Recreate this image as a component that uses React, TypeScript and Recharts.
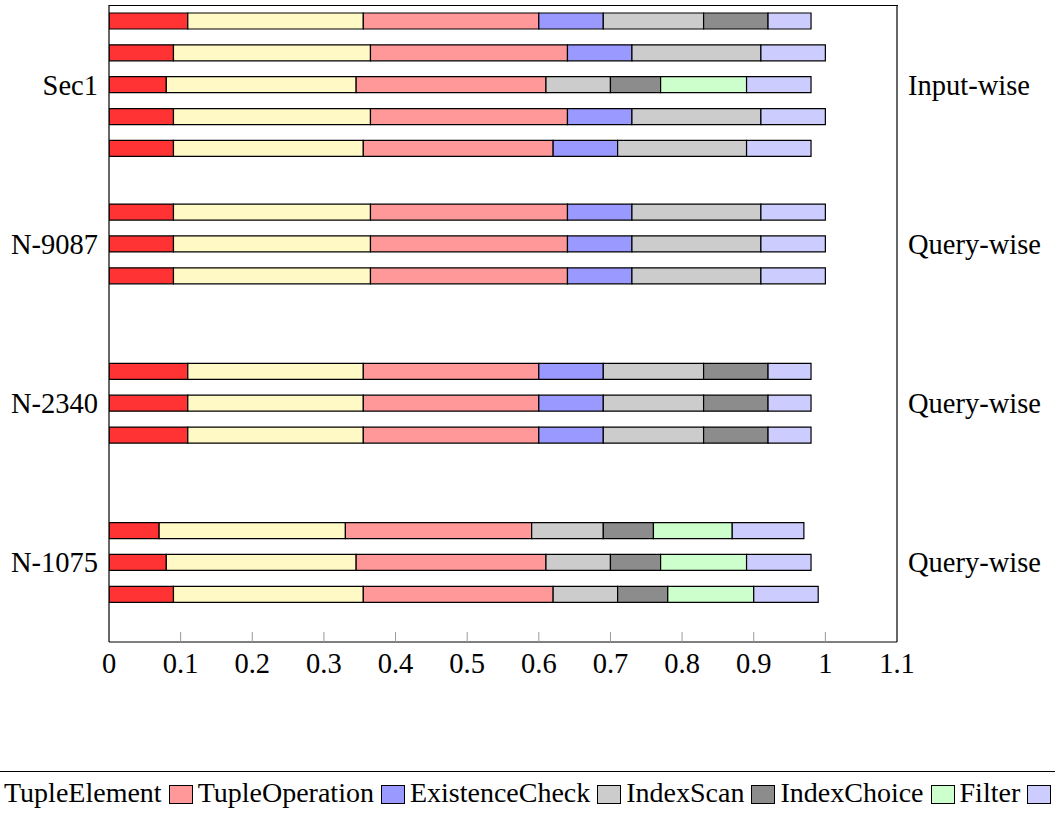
import React from "react";
import { BarChart, Bar, XAxis, YAxis } from "recharts";

// 20 rows on the category axis; empty rows give the gaps between groups
const rows = [
  "r0", "r1", "r2", "r3", "r4", "r5", "r6", "r7", "r8", "r9",
  "r10", "r11", "r12", "r13", "r14", "r15", "r16", "r17", "r18", "r19",
];
const leftLabels: Record<string, string> = { r2: "Sec1", r7: "N-9087", r12: "N-2340", r17: "N-1075" };
const rightLabels: Record<string, string> = { r2: "Input-wise", r7: "Query-wise", r12: "Query-wise", r17: "Query-wise" };

const xTicks = [0, 0.1, 0.2, 0.3, 0.4, 0.5, 0.6, 0.7, 0.8, 0.9, 1, 1.1];

const tupleCreation = [0.11, 0.09, 0.08, 0.09, 0.09, null, 0.09, 0.09, 0.09, null, null, 0.11, 0.11, 0.11, null, null, 0.07, 0.08, 0.09, null];
const tupleElement = [0.245, 0.275, 0.265, 0.275, 0.265, null, 0.275, 0.275, 0.275, null, null, 0.245, 0.245, 0.245, null, null, 0.26, 0.265, 0.265, null];
const tupleOperation = [0.245, 0.275, 0.265, 0.275, 0.265, null, 0.275, 0.275, 0.275, null, null, 0.245, 0.245, 0.245, null, null, 0.26, 0.265, 0.265, null];
const existenceCheck = [0.09, 0.09, 0, 0.09, 0.09, null, 0.09, 0.09, 0.09, null, null, 0.09, 0.09, 0.09, null, null, 0, 0, 0, null];
const indexScan = [0.14, 0.18, 0.09, 0.18, 0.18, null, 0.18, 0.18, 0.18, null, null, 0.14, 0.14, 0.14, null, null, 0.1, 0.09, 0.09, null];
const indexChoice = [0.09, 0, 0.07, 0, 0, null, 0, 0, 0, null, null, 0.09, 0.09, 0.09, null, null, 0.07, 0.07, 0.07, null];
const filter = [0, 0, 0.12, 0, 0, null, 0, 0, 0, null, null, 0, 0, 0, null, null, 0.11, 0.12, 0.12, null];
const aggregate = [0.06, 0.09, 0.09, 0.09, 0.09, null, 0.09, 0.09, 0.09, null, null, 0.06, 0.06, 0.06, null, null, 0.1, 0.09, 0.09, null];

const series = [
  { key: "tupleCreation", name: "TupleCreation", color: "#ff3333", values: tupleCreation },
  { key: "tupleElement", name: "TupleElement", color: "#fef9c5", values: tupleElement },
  { key: "tupleOperation", name: "TupleOperation", color: "#ff9999", values: tupleOperation },
  { key: "existenceCheck", name: "ExistenceCheck", color: "#9999ff", values: existenceCheck },
  { key: "indexScan", name: "IndexScan", color: "#cccccc", values: indexScan },
  { key: "indexChoice", name: "IndexChoice", color: "#8c8c8c", values: indexChoice },
  { key: "filter", name: "Filter", color: "#ccffcc", values: filter },
  { key: "aggregate", name: "Aggregate", color: "#ccccff", values: aggregate },
];

const data = rows.map((row, i) => {
  const d: Record<string, any> = { row };
  series.forEach((s) => (d[s.key] = s.values[i]));
  return d;
});

const FONT = "'Liberation Serif', 'Times New Roman', serif";
const FS = 28.5;
const PLOT_LEFT = 109;
const PLOT_RIGHT_W = 158;
const PLOT_TOP = 5;

const fmt = (v: number) => (v === 0 ? "0" : v === 1 ? "1" : String(Math.round(v * 10) / 10));

const XTick = ({ x, y, payload }: any) => (
  <g>
    {payload.value > 0 && payload.value < 1.1 && (
      <line x1={x} x2={x} y1={y - 10} y2={y} stroke="#999" strokeWidth={1} />
    )}
    <text x={x} y={y + 31} textAnchor="middle" fontSize={FS} fontFamily={FONT} fill="#000">
      {fmt(payload.value)}
    </text>
  </g>
);

const Swatch = ({ color }: { color: string }) => (
  <span
    style={{
      display: "inline-block",
      width: 24,
      height: 19,
      background: color,
      border: "1px solid #000",
      boxSizing: "border-box",
      margin: "0 5px 0 7px",
      position: "relative",
      top: 2,
    }}
  />
);

export default function App() {
  const [first, second, ...rest] = series;
  return (
    <div
      style={{
        position: "absolute",
        top: 0,
        left: 0,
        width: 1055,
        height: 813,
        overflow: "hidden",
        background: "#fff",
        fontFamily: FONT,
      }}
    >
      <BarChart
        layout="vertical"
        width={1055}
        height={702}
        data={data}
        margin={{ top: PLOT_TOP, right: 0, bottom: 0, left: 0 }}
        barSize={16}
      >
        <XAxis
          type="number"
          domain={[0, 1.1]}
          ticks={xTicks}
          height={60}
          tickLine={false}
          tickSize={0}
          tickMargin={0}
          tick={<XTick />}
          axisLine={{ stroke: "#000", strokeWidth: 1.2 }}
          allowDataOverflow
        />
        <YAxis
          type="category"
          dataKey="row"
          width={PLOT_LEFT}
          interval={0}
          tickLine={false}
          tickSize={0}
          tickMargin={11}
          tickFormatter={(v: string) => leftLabels[v] || ""}
          tick={{ fill: "#000", fontSize: FS, fontFamily: FONT }}
          axisLine={{ stroke: "#000", strokeWidth: 1.2 }}
        />
        <YAxis
          yAxisId="right"
          orientation="right"
          type="category"
          dataKey="row"
          width={PLOT_RIGHT_W}
          interval={0}
          tickLine={false}
          tickSize={0}
          tickMargin={11}
          tickFormatter={(v: string) => rightLabels[v] || ""}
          tick={{ fill: "#000", fontSize: FS, fontFamily: FONT, textAnchor: "start" }}
          axisLine={{ stroke: "#000", strokeWidth: 1.2 }}
        />
        {series.map((s) => (
          <Bar
            key={s.key}
            dataKey={s.key}
            name={s.name}
            stackId="a"
            fill={s.color}
            stroke="#000"
            strokeWidth={1.2}
            isAnimationActive={false}
          />
        ))}
      </BarChart>

      {/* top edge of the axis box */}
      <div
        style={{
          position: "absolute",
          top: PLOT_TOP - 0.5,
          left: PLOT_LEFT - 0.5,
          width: 1055 - PLOT_LEFT - PLOT_RIGHT_W + 1,
          height: 0,
          borderTop: "1.2px solid #000",
        }}
      />

      {/* legend box: wider than the page, so its ends are cut off */}
      <div
        style={{
          position: "absolute",
          top: 771,
          left: -60,
          width: 1200,
          height: 60,
          borderTop: "1px solid #000",
          borderLeft: "1px solid #000",
          borderRight: "1px solid #000",
        }}
      />
      <div
        style={{
          position: "absolute",
          top: 776,
          left: 4,
          whiteSpace: "nowrap",
          fontSize: 28,
          lineHeight: "34px",
          color: "#000",
        }}
      >
        <span style={{ position: "absolute", right: "100%", whiteSpace: "nowrap" }}>
          <Swatch color={first.color} />
          {first.name}
          <Swatch color={second.color} />
        </span>
        {second.name}
        {rest.map((s) => (
          <React.Fragment key={s.key}>
            <Swatch color={s.color} />
            {s.name}
          </React.Fragment>
        ))}
      </div>
    </div>
  );
}
